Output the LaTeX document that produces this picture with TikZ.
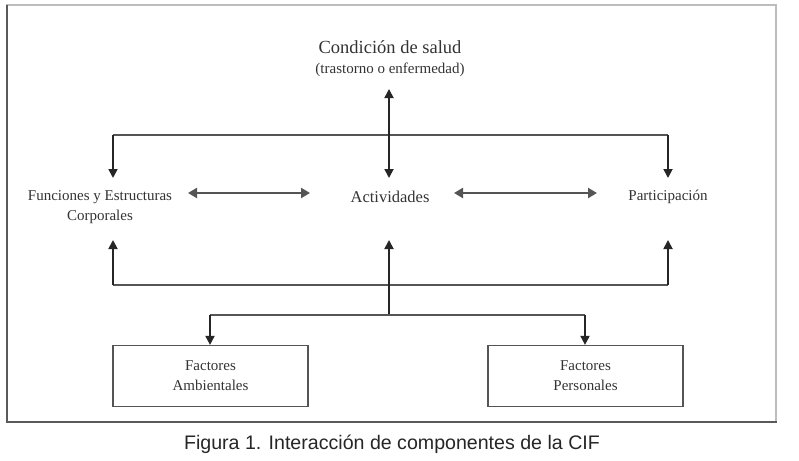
\documentclass[tikz,border=0pt]{standalone}
\usepackage{fontspec}
\setmainfont{Liberation Serif}
\newfontfamily\captionfont{Liberation Sans}
\usetikzlibrary{arrows.meta}

\definecolor{inkgray}{HTML}{333333}
\definecolor{linegray}{HTML}{555555}
\definecolor{framedark}{HTML}{5A5A5A}
\definecolor{framelight}{HTML}{BDBDBD}

\tikzset{
	label/.style={text=inkgray, align=center, inner sep=0pt, font=\fontsize{15}{20}\selectfont},
	conn/.style={draw=linegray, line width=1.4pt},
	arr/.style={->, >={Triangle[length=9pt, width=9pt]}, draw=black!85, line width=1.8pt, line cap=butt},
	dbl/.style={<->, >={Triangle[length=9pt, width=10pt]}, draw=linegray, line width=2.4pt, line cap=butt},
	factorbox/.style={draw=linegray, line width=1.2pt, minimum width=195pt, minimum height=61pt, text=inkgray, align=center, font=\fontsize{15}{20}\selectfont}
}

\begin{document}
\begin{tikzpicture}[x=1pt, y=-1pt]
	\useasboundingbox (0,0) rectangle (799,460);
	
	% marco
	\draw[framelight, line width=1.8pt] (7,422) -- (7,5) -- (776,5) -- (776,422);
	\draw[framedark, line width=2pt] (7,5) -- (7,422) -- (777,422);
	
	% textos
	\node[label, font=\fontsize{18.5}{22}\selectfont] (salud) at (390,47) {Condición de salud};
	\node[label] (trast) at (390,70) {(trastorno o enfermedad)};
	\node[label] (func) at (100,207) {Funciones y Estructuras\\Corporales};
	\node[label, font=\fontsize{16.5}{20}\selectfont] (act) at (390,197) {Actividades};
	\node[label] (part) at (668,197) {Participación};
	\node[factorbox] (amb) at (210.5,376) {Factores\\Ambientales};
	\node[factorbox] (pers) at (585.5,376) {Factores\\Personales};
	\node[font=\captionfont\fontsize{19.6}{22}\selectfont, text=black!85] (cap) at (392,444) {Figura 1. Interacción de componentes de la CIF};
	
	% puntos de union
	\coordinate (saludIn) at (389,89);
	\coordinate (actTop) at (389,178);
	\coordinate (actBot) at (389,240);
	\coordinate (topL) at (113,135);
	\coordinate (topR) at (668,135);
	\coordinate (funcTop) at (113,178);
	\coordinate (partTop) at (668,178);
	\coordinate (botL) at (113,285);
	\coordinate (botR) at (668,285);
	\coordinate (funcBot) at (113,240);
	\coordinate (partBot) at (668,240);
	\coordinate (hub) at (389,315);
	\coordinate (brL) at (210,315);
	\coordinate (brR) at (585,315);
	\coordinate (funcE) at (188,193);
	\coordinate (actW) at (310,193);
	\coordinate (actE) at (454,193);
	\coordinate (partW) at (597,193);
	
	% conectores
	\draw[conn] (topL) -- (topR);
	\draw[arr] (topL) -- (funcTop);
	\draw[arr] (topR) -- (partTop);
	\draw[arr, <->] (actTop) -- (saludIn);
	\draw[dbl] (funcE) -- (actW);
	\draw[dbl] (actE) -- (partW);
	\draw[conn] (botL) -- (botR);
	\draw[arr] (botL) -- (funcBot);
	\draw[arr] (botR) -- (partBot);
	\draw[arr] (hub) -- (actBot);
	\draw[conn] (brL) -- (brR);
	\draw[arr] (brL) -- (brL |- amb.north);
	\draw[arr] (brR) -- (brR |- pers.north);
\end{tikzpicture}
\end{document}
